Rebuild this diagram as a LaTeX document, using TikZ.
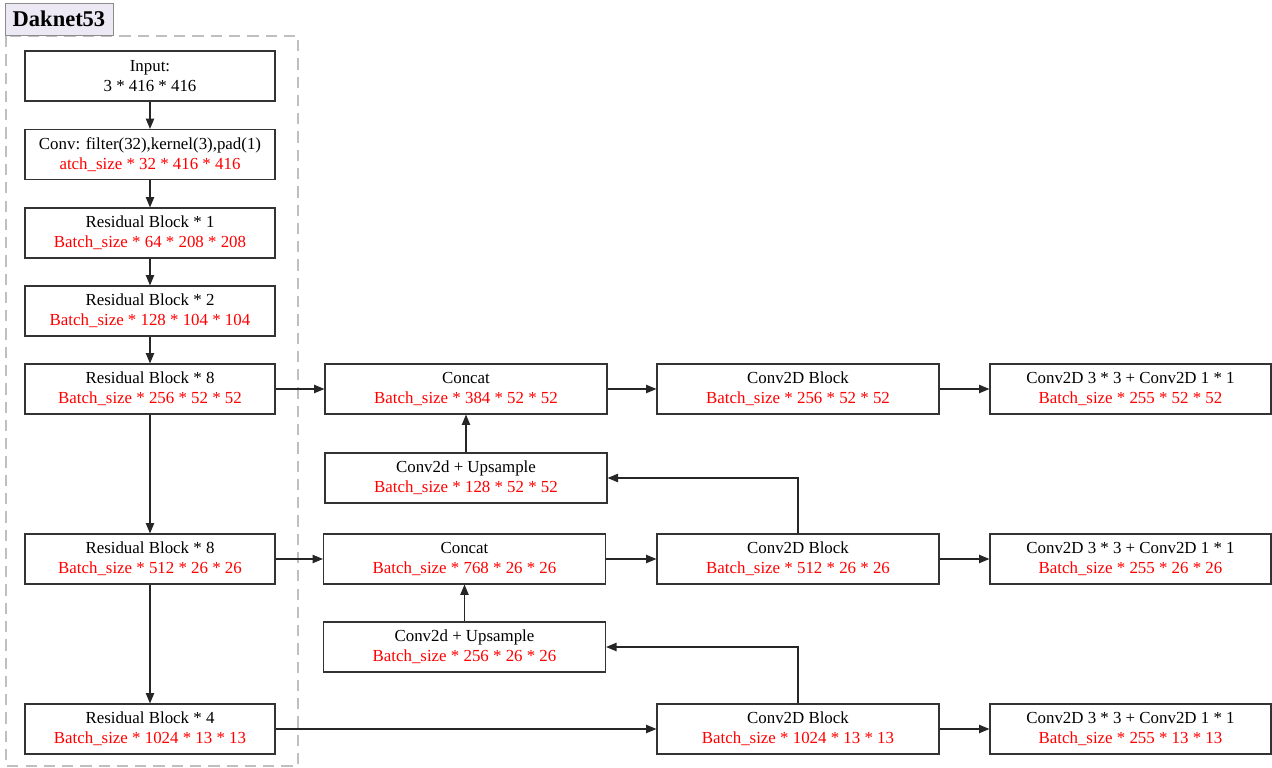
\documentclass[tikz,border=0pt]{standalone}
\usepackage{fontspec}
\setmainfont{Liberation Serif}
\usetikzlibrary{positioning, arrows.meta, calc}
\definecolor{titlebg}{RGB}{236,233,245}
\tikzset{
  blk/.style={draw=black!80, line width=0.8pt, align=center, inner sep=0pt,
    minimum height=1.25cm, font=\fontsize{12}{14.4}\selectfont},
  lblk/.style={blk, minimum width=6.25cm},
  wblk/.style={blk, minimum width=7.05cm},
  link/.style={->, line width=0.8pt, black!85},
}
\newcommand{\bsz}[1]{\textcolor{red}{#1}}

\begin{document}
\begin{tikzpicture}[x=0.025cm, y=-0.025cm, >={Triangle[length=2.6mm, width=2.1mm]}]
  \useasboundingbox (0,0) rectangle (1272,768);
  % backbone frame
  \draw[dashed, dash pattern=on 8pt off 5pt, black!25, line width=0.8pt] (6,36) rectangle (298,766);
  \node[draw=black!45, fill=titlebg, line width=0.6pt, minimum width=2.7cm, minimum height=0.8cm,
    inner sep=0pt, font=\fontsize{16}{18}\selectfont\bfseries] (title) at (59,19) {Daknet53};

  % Darknet53 column
  \node[lblk] (input) at (150,76) {Input:\\3 * 416 * 416};
  \node[lblk] (conv)  at (150,154.5) {Conv: filter(32),kernel(3),pad(1)\\\bsz{atch\_size * 32 * 416 * 416}};
  \node[lblk] (res1)  at (150,233) {Residual Block * 1\\\bsz{Batch\_size * 64 * 208 * 208}};
  \node[lblk] (res2)  at (150,311) {Residual Block * 2\\\bsz{Batch\_size * 128 * 104 * 104}};
  \node[lblk] (res8a) at (150,389) {Residual Block * 8\\\bsz{Batch\_size * 256 * 52 * 52}};
  \node[lblk] (res8b) at (150,559) {Residual Block * 8\\\bsz{Batch\_size * 512 * 26 * 26}};
  \node[lblk] (res4)  at (150,729) {Residual Block * 4\\\bsz{Batch\_size * 1024 * 13 * 13}};

  % neck
  \node[wblk] (cat1) at (466,389) {Concat\\\bsz{Batch\_size * 384 * 52 * 52}};
  \node[wblk] (up1)  at (466,478) {Conv2d + Upsample\\\bsz{Batch\_size * 128 * 52 * 52}};
  \node[wblk] (cat2) at (464.5,559) {Concat\\\bsz{Batch\_size * 768 * 26 * 26}};
  \node[wblk] (up2)  at (464.5,647) {Conv2d + Upsample\\\bsz{Batch\_size * 256 * 26 * 26}};

  \node[wblk] (cb1) at (798,389) {Conv2D Block\\\bsz{Batch\_size * 256 * 52 * 52}};
  \node[wblk] (cb2) at (798,559) {Conv2D Block\\\bsz{Batch\_size * 512 * 26 * 26}};
  \node[wblk] (cb3) at (798,729) {Conv2D Block\\\bsz{Batch\_size * 1024 * 13 * 13}};

  % heads
  \node[wblk, minimum width=7.025cm] (out1) at (1130.5,389) {Conv2D 3 * 3 + Conv2D 1 * 1\\\bsz{Batch\_size * 255 * 52 * 52}};
  \node[wblk, minimum width=7.025cm] (out2) at (1130.5,559) {Conv2D 3 * 3 + Conv2D 1 * 1\\\bsz{Batch\_size * 255 * 26 * 26}};
  \node[wblk, minimum width=7.025cm] (out3) at (1130.5,729) {Conv2D 3 * 3 + Conv2D 1 * 1\\\bsz{Batch\_size * 255 * 13 * 13}};

  \draw[link] (input) -- (conv);
  \draw[link] (conv) -- (res1);
  \draw[link] (res1) -- (res2);
  \draw[link] (res2) -- (res8a);
  \draw[link] (res8a) -- (res8b);
  \draw[link] (res8b) -- (res4);

  \draw[link] (res8a) -- (cat1);
  \draw[link] (cat1) -- (cb1);
  \draw[link] (cb1) -- (out1);
  \draw[link] (up1) -- (cat1);
  \draw[link] (cb2.north) |- (up1.east);

  \draw[link] (res8b) -- (cat2);
  \draw[link] (cat2) -- (cb2);
  \draw[link] (cb2) -- (out2);
  \draw[link] (up2) -- (cat2);
  \draw[link] (cb3.north) |- (up2.east);

  \draw[link] (res4) -- (cb3);
  \draw[link] (cb3) -- (out3);
\end{tikzpicture}
\end{document}
